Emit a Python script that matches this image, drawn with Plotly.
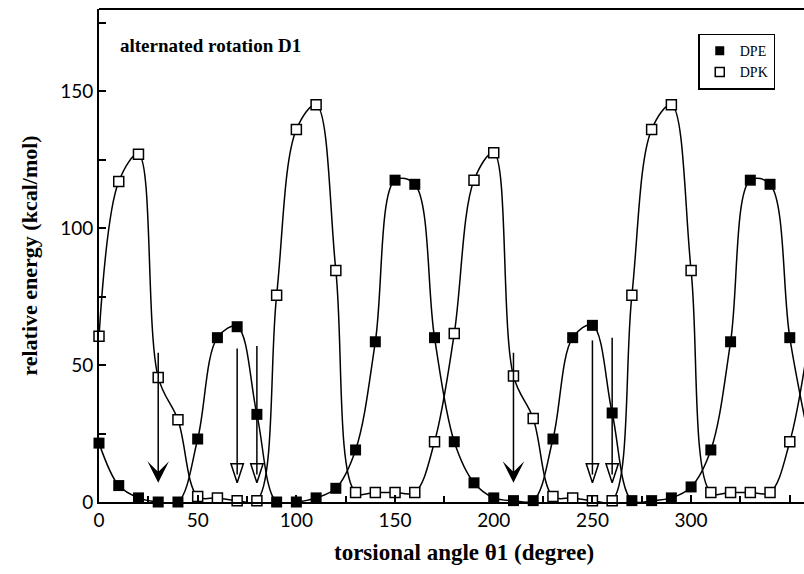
import plotly.graph_objects as go

angle = [0, 10, 20, 30, 40, 50, 60, 70, 80, 90, 100, 110, 120, 130, 140, 150, 160, 170, 180,
         190, 200, 210, 220, 230, 240, 250, 260, 270, 280, 290, 300, 310, 320, 330, 340, 350, 360]
dpe = [21.5, 6, 1.5, 0, 0, 23, 60, 64, 32, 0, 0, 1.5, 5, 19, 58.5, 117.5, 116, 60, 22,
       7, 1.5, 0.5, 0.5, 23, 60, 64.5, 32.5, 0.5, 0.5, 1.5, 5.5, 19, 58.5, 117.5, 116, 60, 22]
dpk = [60.5, 117, 127, 45.5, 30, 2, 1.5, 0.5, 0.5, 75.5, 136, 145, 84.5, 3.5, 3.5, 3.5, 3.5, 22, 61.5,
       117.5, 127.5, 46, 30.5, 2, 1.5, 0.5, 0.5, 75.5, 136, 145, 84.5, 3.5, 3.5, 3.5, 3.5, 22, 61]

arrow_x = [30, 70, 80, 210, 250, 260]
arrow_top = [55, 56, 57, 55, 59, 60]
arrow_tip = [7, 7, 7, 7, 7, 7]
arrow_solid = [True, False, False, True, False, False]

x_ticks = [0, 50, 100, 150, 200, 250, 300, 350]
y_ticks = [0, 50, 100, 150]

serif = "Liberation Serif"
sans = "Lato"

fig = go.Figure()

fig.add_trace(go.Scatter(x=angle, y=dpe, mode="lines+markers", line=dict(color="black", width=1.5, shape="spline"),
                         marker=dict(symbol="square", size=11, color="black"), showlegend=False, cliponaxis=False))
fig.add_trace(go.Scatter(x=angle, y=dpk, mode="lines+markers", line=dict(color="black", width=1.5, shape="spline"),
                         marker=dict(symbol="square", size=10, color="white", line=dict(color="black", width=1.5)),
                         showlegend=False, cliponaxis=False))

for xa, top, tip, solid in zip(arrow_x, arrow_top, arrow_tip, arrow_solid):
    if solid:
        fig.add_annotation(x=xa, y=tip, ax=xa, ay=top, xref="x", yref="y", axref="x", ayref="y",
                           text="", showarrow=True, arrowhead=3, arrowsize=2.4, arrowwidth=1.5,
                           arrowcolor="black")
    else:
        fig.add_trace(go.Scatter(x=[xa, xa], y=[top, tip + 3], mode="lines", line=dict(color="black", width=1.5),
                                 showlegend=False, hoverinfo="skip"))
        fig.add_trace(go.Scatter(x=[xa], y=[tip], mode="markers", showlegend=False, hoverinfo="skip",
                                 marker=dict(symbol="arrow-open", angle=180, size=20,
                                             color="black", line=dict(color="black", width=1.5))))

fig.add_trace(go.Scatter(x=[None], y=[None], mode="markers", name="DPE",
                         marker=dict(symbol="square", size=9, color="black")))
fig.add_trace(go.Scatter(x=[None], y=[None], mode="markers", name="DPK",
                         marker=dict(symbol="square", size=9, color="white", line=dict(color="black", width=1.5))))

fig.add_annotation(x=0.027, y=0.925, xref="paper", yref="paper", text="<b>alternated rotation D1</b>",
                   showarrow=False, xanchor="left", yanchor="middle", font=dict(family=serif, size=19, color="black"))
fig.add_annotation(x=0.518, y=-0.073, xref="paper", yref="paper", text="<b>torsional angle θ1 (degree)</b>",
                   showarrow=False, xanchor="center", yanchor="top", font=dict(family=serif, size=23, color="black"))

fig.add_shape(type="line", xref="paper", yref="paper", x0=0, x1=1, y0=1, y1=1, line=dict(color="black", width=2))

fig.update_layout(
    width=804, height=574,
    margin=dict(l=99, r=0, t=9, b=72),
    paper_bgcolor="white", plot_bgcolor="white",
    xaxis=dict(range=[0, 357.2], tickvals=x_ticks, ticks="inside", ticklen=7, tickwidth=1.5, tickcolor="black",
               showline=True, linecolor="black", linewidth=2, showgrid=False, zeroline=False,
               tickfont=dict(family=sans, size=19, color="black"),
               minor=dict(dtick=25, tick0=0, ticks="inside", ticklen=6, tickwidth=1.5, tickcolor="black")),
    yaxis=dict(range=[0, 180], tickvals=y_ticks, ticks="inside", ticklen=7, tickwidth=1.5, tickcolor="black",
               showline=True, linecolor="black", linewidth=2, showgrid=False, zeroline=False,
               tickfont=dict(family=sans, size=19, color="black"),
               minor=dict(dtick=25, tick0=0, ticks="inside", ticklen=7, tickwidth=1.5, tickcolor="black"),
               title=dict(text="<b>relative energy (kcal/mol)</b>", font=dict(family=serif, size=22, color="black"),
                          standoff=16)),
    legend=dict(x=0.85, y=0.95, xanchor="left", yanchor="top", bordercolor="black", borderwidth=1.5,
                bgcolor="white", font=dict(family=serif, size=14, color="black"), itemwidth=30,
                tracegroupgap=0),
)

fig.write_html("out.html", config={"displayModeBar": False},
               post_script="document.body.style.margin='0';document.body.style.overflow='hidden';")
